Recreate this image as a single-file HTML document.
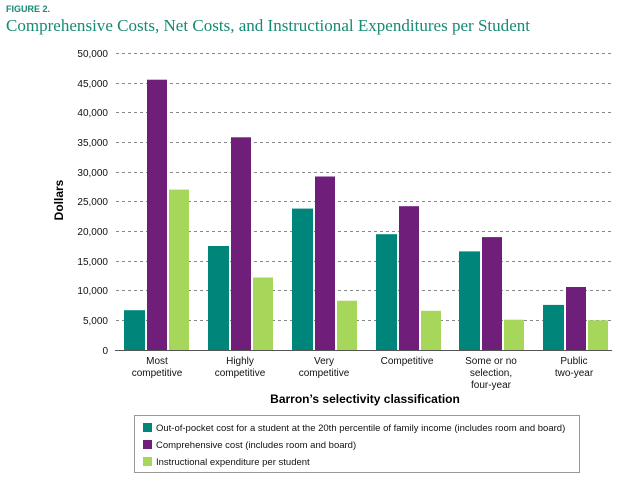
<!DOCTYPE html>
<html><head><style>
body{margin:0;background:#fff;width:630px;height:478px;overflow:hidden;font-family:"Liberation Sans",sans-serif}
</style></head><body>
<svg width="630" height="478" xmlns="http://www.w3.org/2000/svg" font-family="Liberation Sans, sans-serif">
<text x="6" y="12" font-size="9" font-weight="bold" fill="#178a74">FIGURE 2.</text>
<text x="6" y="31" font-size="17" fill="#178a74" font-family="Liberation Serif, serif" textLength="524" lengthAdjust="spacingAndGlyphs">Comprehensive Costs, Net Costs, and Instructional Expenditures per Student</text>
<g stroke="#888" stroke-width="1" stroke-dasharray="3,3">
<line x1="116" x2="612" y1="53.5" y2="53.5"/><line x1="116" x2="612" y1="83.5" y2="83.5"/>
<line x1="116" x2="612" y1="112.5" y2="112.5"/><line x1="116" x2="612" y1="142.5" y2="142.5"/>
<line x1="116" x2="612" y1="172.5" y2="172.5"/><line x1="116" x2="612" y1="201.5" y2="201.5"/>
<line x1="116" x2="612" y1="231.5" y2="231.5"/><line x1="116" x2="612" y1="261.5" y2="261.5"/>
<line x1="116" x2="612" y1="290.5" y2="290.5"/><line x1="116" x2="612" y1="320.5" y2="320.5"/>
</g>
<g font-size="10" text-anchor="end" fill="#111">
<text x="108" y="57">50,000</text><text x="108" y="87">45,000</text><text x="108" y="116">40,000</text>
<text x="108" y="146">35,000</text><text x="108" y="176">30,000</text><text x="108" y="205">25,000</text>
<text x="108" y="235">20,000</text><text x="108" y="265">15,000</text><text x="108" y="294">10,000</text>
<text x="108" y="324">5,000</text><text x="108" y="354">0</text>
</g>
<text transform="translate(63,200) rotate(-90)" font-size="12" font-weight="bold" text-anchor="middle">Dollars</text>
<line x1="115" x2="612" y1="350.5" y2="350.5" stroke="#555"/>
<g font-size="10" text-anchor="middle" fill="#111">
<text x="157" y="364">Most</text><text x="157" y="376">competitive</text>
<text x="240" y="364">Highly</text><text x="240" y="376">competitive</text>
<text x="324" y="364">Very</text><text x="324" y="376">competitive</text>
<text x="407" y="364">Competitive</text>
<text x="491" y="364">Some or no</text><text x="491" y="376">selection,</text><text x="491" y="388">four-year</text>
<text x="574" y="364">Public</text><text x="574" y="376">two-year</text>
</g>
<text x="365" y="403" font-size="12" font-weight="bold" text-anchor="middle">Barron’s selectivity classification</text>
<rect x="134.5" y="415.5" width="445" height="57" fill="none" stroke="#999"/>
<rect x="143" y="423" width="9" height="9" fill="#00857a"/>
<rect x="143" y="440" width="9" height="9" fill="#6f1f7a"/>
<rect x="143" y="457" width="9" height="9" fill="#a6d65a"/>
<g font-size="9.5" fill="#111">
<text x="156" y="431">Out-of-pocket cost for a student at the 20th percentile of family income (includes room and board)</text>
<text x="156" y="448">Comprehensive cost (includes room and board)</text>
<text x="156" y="465">Instructional expenditure per student</text>
</g>
<g>
<rect x="124" y="310.2" width="21" height="39.8" fill="#00857a"/>
<rect x="147" y="79.7" width="20" height="270.3" fill="#6f1f7a"/>
<rect x="169" y="189.6" width="20" height="160.4" fill="#a6d65a"/>
<rect x="208" y="246.0" width="21" height="104.0" fill="#00857a"/>
<rect x="231" y="137.3" width="20" height="212.7" fill="#6f1f7a"/>
<rect x="253" y="277.5" width="20" height="72.5" fill="#a6d65a"/>
<rect x="292" y="208.6" width="21" height="141.4" fill="#00857a"/>
<rect x="315" y="176.5" width="20" height="173.5" fill="#6f1f7a"/>
<rect x="337" y="300.7" width="20" height="49.3" fill="#a6d65a"/>
<rect x="376" y="234.2" width="21" height="115.8" fill="#00857a"/>
<rect x="399" y="206.2" width="20" height="143.8" fill="#6f1f7a"/>
<rect x="421" y="310.8" width="20" height="39.2" fill="#a6d65a"/>
<rect x="459" y="251.4" width="21" height="98.6" fill="#00857a"/>
<rect x="482" y="237.1" width="20" height="112.9" fill="#6f1f7a"/>
<rect x="504" y="319.7" width="20" height="30.3" fill="#a6d65a"/>
<rect x="543" y="304.9" width="21" height="45.1" fill="#00857a"/>
<rect x="566" y="287.0" width="20" height="63.0" fill="#6f1f7a"/>
<rect x="588" y="320.3" width="20" height="29.7" fill="#a6d65a"/>
</g>
</svg>
</body></html>
